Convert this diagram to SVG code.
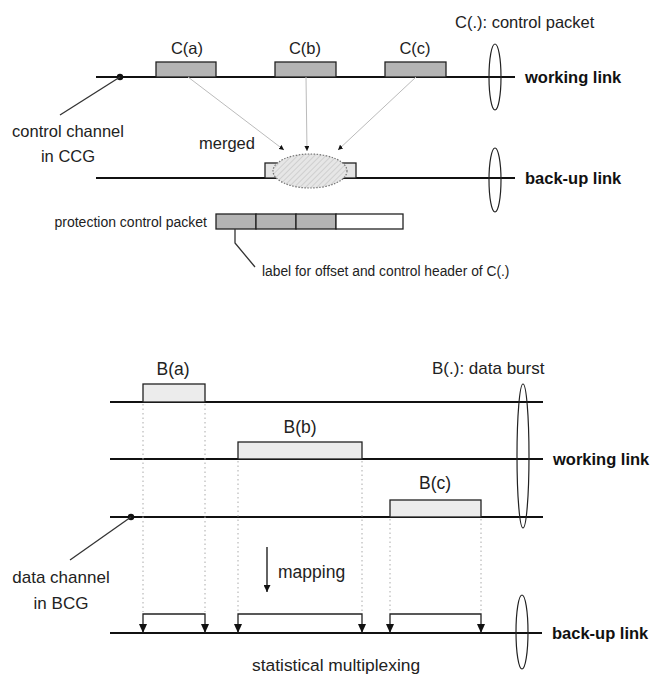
<svg xmlns="http://www.w3.org/2000/svg" width="655" height="674" viewBox="0 0 655 674">
<defs>
<style>
text{font-family:"Liberation Sans",Arial,sans-serif;fill:#222}
.lk{font-weight:bold;font-size:16.5px;fill:#111}
.ln{stroke:#111;stroke-width:2.2;fill:none}
.cp{fill:#b4b4b4;stroke:#222;stroke-width:1.3}
.db{fill:#ececec;stroke:#222;stroke-width:1.3}
.el{fill:none;stroke:#222;stroke-width:1.2}
.dot{stroke:#aaa;stroke-width:1;stroke-dasharray:1.5 3;fill:none}
.thin{stroke:#bbb;stroke-width:1;fill:none}
.br{stroke:#222;stroke-width:1.3;fill:none}
.lead{stroke:#333;stroke-width:1.3;fill:none}
</style>
<pattern id="hatch" width="4" height="4" patternUnits="userSpaceOnUse" patternTransform="rotate(45)">
<rect width="4" height="4" fill="#e6e6e6"/>
<line x1="0" y1="0" x2="0" y2="4" stroke="#c8c8c8" stroke-width="1.5"/>
</pattern>
<marker id="ah" viewBox="0 0 10 10" refX="10" refY="5" markerWidth="5" markerHeight="5" orient="auto" markerUnits="userSpaceOnUse">
<path d="M0,0 L10,5 L0,10 z" fill="#111"/>
</marker>
<marker id="ah2" viewBox="0 0 10 10" refX="10" refY="5" markerWidth="7" markerHeight="7" orient="auto" markerUnits="userSpaceOnUse">
<path d="M0,0 L10,5 L0,10 z" fill="#111"/>
</marker>
</defs>
<rect width="655" height="674" fill="#fff"/>

<!-- TOP: control packets -->
<g id="top-links">
<line class="ln" x1="96" y1="77" x2="515" y2="77"/>
<line class="ln" x1="96" y1="178" x2="515" y2="178"/>
<ellipse class="el" cx="495" cy="77" rx="6" ry="33"/>
<ellipse class="el" cx="495" cy="180" rx="6" ry="32"/>
<text class="lk" x="525" y="83">working link</text>
<text class="lk" x="525" y="184">back-up link</text>
<text x="455" y="28" font-size="16.5">C(.): control packet</text>
</g>
<g id="ctrl-channel">
<circle cx="120" cy="77" r="3.2" fill="#111"/>
<line class="lead" x1="120" y1="77" x2="60" y2="115"/>
<text x="68" y="137" font-size="16.5" text-anchor="middle">control channel</text>
<text x="68" y="162" font-size="16.5" text-anchor="middle">in CCG</text>
</g>
<g id="Ca">
<rect class="cp" x="156" y="62" width="60" height="15"/>
<text x="187" y="54" font-size="16.5" text-anchor="middle">C(a)</text>
</g>
<g id="Cb">
<rect class="cp" x="275" y="62" width="61" height="15"/>
<text x="305" y="54" font-size="16.5" text-anchor="middle">C(b)</text>
</g>
<g id="Cc">
<rect class="cp" x="385" y="62" width="61" height="15"/>
<text x="415" y="54" font-size="16.5" text-anchor="middle">C(c)</text>
</g>
<g id="merged">
<rect x="265" y="163" width="91" height="15" fill="#e4e4e4" stroke="#222" stroke-width="1.3"/>
<ellipse cx="310" cy="171" rx="37" ry="17" fill="url(#hatch)" stroke="#777" stroke-width="1.2" stroke-dasharray="1.5 1.5"/>
<text x="199" y="149" font-size="16.5">merged</text>
</g>
<g id="top-connectors">
<line class="thin" x1="188" y1="77" x2="284" y2="150" marker-end="url(#ah)"/>
<line class="thin" x1="306" y1="77" x2="307" y2="151" marker-end="url(#ah)"/>
<line class="thin" x1="416" y1="77" x2="338" y2="150" marker-end="url(#ah)"/>
</g>
<g id="protection-packet">
<rect class="cp" x="216" y="214" width="40" height="15"/>
<rect class="cp" x="256" y="214" width="40" height="15"/>
<rect class="cp" x="296" y="214" width="40" height="15"/>
<rect x="336" y="214" width="67" height="15" fill="#fff" stroke="#222" stroke-width="1.3"/>
<text x="207" y="227" font-size="14" text-anchor="end">protection control packet</text>
<polyline class="lead" points="235,229 235,243 255,267"/>
<text x="262" y="276" font-size="13.8">label for offset and control header of C(.)</text>
</g>

<!-- BOTTOM: data bursts -->
<g id="bottom-links">
<line class="ln" x1="110" y1="402" x2="543" y2="402"/>
<line class="ln" x1="110" y1="459" x2="543" y2="459"/>
<line class="ln" x1="110" y1="517" x2="543" y2="517"/>
<line class="ln" x1="110" y1="633" x2="542" y2="633"/>
<ellipse class="el" cx="523" cy="456" rx="6" ry="72"/>
<ellipse class="el" cx="522" cy="632" rx="6" ry="37"/>
<text x="432" y="374" font-size="17">B(.): data burst</text>
<text class="lk" x="553" y="465">working link</text>
<text class="lk" x="552" y="639">back-up link</text>
</g>
<g id="data-channel">
<circle cx="131" cy="517" r="3.2" fill="#111"/>
<line class="lead" x1="131" y1="517" x2="70" y2="560"/>
<text x="61" y="583" font-size="17" text-anchor="middle">data channel</text>
<text x="61" y="609" font-size="17" text-anchor="middle">in BCG</text>
</g>
<g id="Ba">
<rect class="db" x="143" y="384" width="62" height="18"/>
<text x="173" y="375" font-size="17.5" text-anchor="middle">B(a)</text>
</g>
<g id="Bb">
<rect class="db" x="238" y="442" width="124" height="17"/>
<text x="300" y="433" font-size="17.5" text-anchor="middle">B(b)</text>
</g>
<g id="Bc">
<rect class="db" x="390" y="500" width="91" height="17"/>
<text x="435" y="489" font-size="17.5" text-anchor="middle">B(c)</text>
</g>
<g id="bottom-connectors">
<line class="dot" x1="143" y1="404" x2="143" y2="612"/>
<line class="dot" x1="205" y1="404" x2="205" y2="612"/>
<line class="dot" x1="238" y1="461" x2="238" y2="612"/>
<line class="dot" x1="362" y1="461" x2="362" y2="612"/>
<line class="dot" x1="390" y1="519" x2="390" y2="612"/>
<line class="dot" x1="481" y1="519" x2="481" y2="612"/>
<line x1="267" y1="547" x2="267" y2="592" stroke="#222" stroke-width="1.4" marker-end="url(#ah2)"/>
<polyline class="br" points="143,633 143,614 205,614 205,633"/>
<polyline class="br" points="238,633 238,614 362,614 362,633"/>
<polyline class="br" points="390,633 390,614 481,614 481,633"/>
<g fill="#111">
<path d="M139,624 L147,624 L143,633 z"/>
<path d="M201,624 L209,624 L205,633 z"/>
<path d="M234,624 L242,624 L238,633 z"/>
<path d="M358,624 L366,624 L362,633 z"/>
<path d="M386,624 L394,624 L390,633 z"/>
<path d="M477,624 L485,624 L481,633 z"/>
</g>
<text x="278" y="578" font-size="17.5">mapping</text>
<text x="252" y="671" font-size="17.4">statistical multiplexing</text>
</g>
</svg>
